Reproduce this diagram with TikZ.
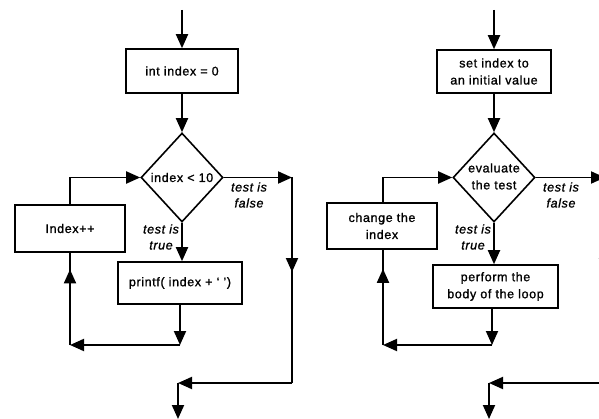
\documentclass[tikz,border=0pt]{standalone}
\usepackage{fontspec}
\setmainfont[LetterSpace=5,FakeBold=1.2]{Liberation Sans}
\usetikzlibrary{arrows.meta,shapes.geometric,decorations.markings}
\tikzset{
  tipshape/.tip={Triangle[width=12pt,length=14pt]},
  box/.style={draw, line width=1.6pt, align=center, inner sep=0pt},
  dia/.style={draw, diamond, line width=1.6pt, inner sep=0pt, minimum width=82pt, minimum height=89pt},
  conn/.style={line width=1.9pt},
  arr/.style={conn, -tipshape},
  midarr/.style={conn, postaction={decorate}, decoration={markings, mark=at position #1 with {\arrow{tipshape}}}},
  lbl/.style={font=\fontsize{12.5}{16}\selectfont\itshape, align=center, inner sep=0pt}
}
\begin{document}
\begin{tikzpicture}[x=1pt, y=-1pt, font=\fontsize{12.5}{17}\selectfont]
\useasboundingbox (0,0) rectangle (599,419);
\clip (0,0) rectangle (599,419);
\fill[white] (0,0) rectangle (599,419);

% ---------------- left flowchart ----------------
\coordinate (Ltop) at (182,10);
\node[box, minimum width=112pt, minimum height=44pt] (Linit) at (182,71) {int index = 0};
\node[dia, label={center:index < 10}] (Ltest) at (182,177.5) {};
\node[box, minimum width=124pt, minimum height=42pt] (Lprint) at (180,283) {printf( index + ‘ ’)};
\node[box, minimum width=110pt, minimum height=47pt] (Linc) at (70,228.5) {Index++};
\coordinate (LfR) at (292,177.5);
\coordinate (LfB) at (292,383);
\coordinate (Lj) at (178,383);
\coordinate (Lend) at (178,419);
\coordinate (Lb) at (180,345);
\coordinate (Lc) at (70,345);

\draw[arr] (Ltop) -- (Linit.north);
\draw[arr] (Linit.south) -- (Ltest.north);
\draw[arr] (Ltest.east) -- (LfR);
\draw[midarr=0.46] (LfR) -- (LfB);
\draw[arr] (LfB) -- (Lj);
\draw[arr] (Lj) -- (Lend);
\draw[arr] (Ltest.south) -- (Ltest.south |- Lprint.north);
\draw[arr] (Lprint.south -| Lb) -- (Lb);
\draw[arr] (Lb) -- (Lc);
\draw[midarr=0.82] (Lc) -- (Linc.south);
\draw[arr] (Linc.north) |- (Ltest.west);

\node[lbl] (Lfalse) at (249,195) {test is\\false};
\node[lbl] (Ltrue) at (161,237) {test is\\true};

% ---------------- right flowchart ----------------
\coordinate (Rtop) at (494,10);
\node[box, minimum width=114pt, minimum height=43pt] (Rinit) at (494,71.5) {set index to\\an initial value};
\node[dia, label={center:\begin{tabular}{@{}c@{}}evaluate\\the test\end{tabular}}] (Rtest) at (494,177.5) {};
\node[box, minimum width=125pt, minimum height=43pt] (Rbody) at (495.5,286.5) {perform the\\body of the loop};
\node[box, minimum width=110pt, minimum height=46pt] (Rchg) at (382,226) {change the\\index};
\coordinate (RfR) at (605,177.5);
\coordinate (RfB) at (605,383);
\coordinate (Rj) at (489,383);
\coordinate (Rend) at (489,419);
\coordinate (Rb) at (492,345);
\coordinate (Rc) at (383,345);

\draw[arr] (Rtop) -- (Rinit.north);
\draw[arr] (Rinit.south) -- (Rtest.north);
\draw[arr] (Rtest.east) -- (RfR);
\draw[midarr=0.46] (RfR) -- (RfB);
\draw[arr] (RfB) -- (Rj);
\draw[arr] (Rj) -- (Rend);
\draw[arr] (Rtest.south) -- (Rtest.south |- Rbody.north);
\draw[arr] (Rbody.south -| Rb) -- (Rb);
\draw[arr] (Rb) -- (Rc);
\draw[midarr=0.8] (Rc) -- (Rchg.south -| Rc);
\draw[arr] (Rchg.north -| Rc) |- (Rtest.west);

\node[lbl] (Rfalse) at (561,195) {test is\\false};
\node[lbl] (Rtrue) at (473,237) {test is\\true};
\end{tikzpicture}
\end{document}
